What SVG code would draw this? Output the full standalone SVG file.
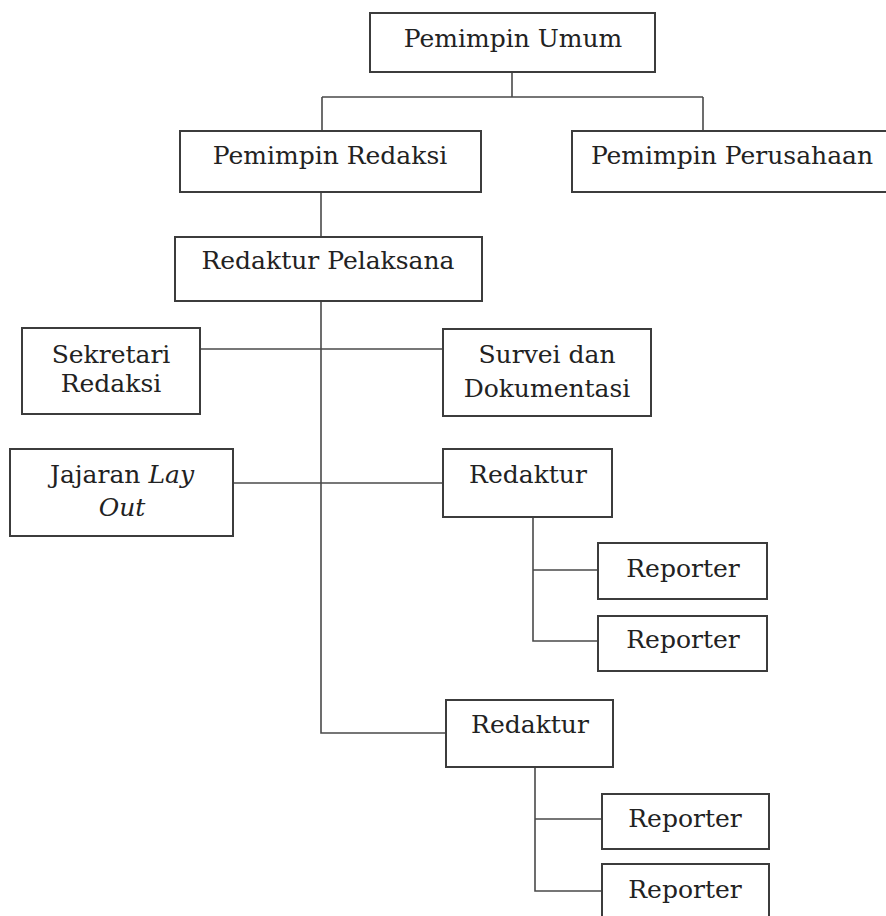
<svg xmlns="http://www.w3.org/2000/svg" width="886" height="916" viewBox="0 0 886 916">
<style>
  .box { fill: #fff; stroke: #3c3c3c; stroke-width: 2; }
  .t { font-family: "DejaVu Serif", "Liberation Serif", serif; font-size: 25px; fill: #222; text-anchor: middle; }
  .i { font-style: italic; }
  .c { fill: none; stroke: #4a4a4a; stroke-width: 1.6; }
</style>
<rect width="886" height="916" fill="#fff"/>
<g id="connectors">
  <path class="c" d="M512 72 V97 M322 97 H703 M322 97 V131 M703 97 V131"/>
  <path class="c" d="M321 192 V237"/>
  <path class="c" d="M321 301 V733 H446"/>
  <path class="c" d="M200 349 H443"/>
  <path class="c" d="M233 483 H443"/>
  <path class="c" d="M533 517 V641 H598 M533 570 H598"/>
  <path class="c" d="M535 767 V891 H602 M535 819 H602"/>
</g>
<g id="pemimpin-umum"><rect class="box" x="370" y="13" width="285" height="59"/><text class="t" x="513" y="47">Pemimpin Umum</text></g>
<g id="pemimpin-redaksi"><rect class="box" x="180" y="131" width="301" height="61"/><text class="t" x="330" y="164">Pemimpin Redaksi</text></g>
<g id="pemimpin-perusahaan"><rect class="box" x="572" y="131" width="320" height="61"/><text class="t" x="732" y="164">Pemimpin Perusahaan</text></g>
<g id="redaktur-pelaksana"><rect class="box" x="175" y="237" width="307" height="64"/><text class="t" x="328" y="269">Redaktur Pelaksana</text></g>
<g id="sekretari-redaksi"><rect class="box" x="22" y="328" width="178" height="86"/><text class="t" x="111" y="363">Sekretari</text><text class="t" x="111" y="392">Redaksi</text></g>
<g id="survei-dokumentasi"><rect class="box" x="443" y="329" width="208" height="87"/><text class="t" x="547" y="363">Survei dan</text><text class="t" x="547" y="397">Dokumentasi</text></g>
<g id="jajaran-layout"><rect class="box" x="10" y="449" width="223" height="87"/><text class="t" x="122" y="483">Jajaran <tspan class="i">Lay</tspan></text><text class="t i" x="122" y="516">Out</text></g>
<g id="redaktur-1"><rect class="box" x="443" y="449" width="169" height="68"/><text class="t" x="528" y="483">Redaktur</text></g>
<g id="reporter-1"><rect class="box" x="598" y="543" width="169" height="56"/><text class="t" x="683" y="577">Reporter</text></g>
<g id="reporter-2"><rect class="box" x="598" y="616" width="169" height="55"/><text class="t" x="683" y="648">Reporter</text></g>
<g id="redaktur-2"><rect class="box" x="446" y="700" width="167" height="67"/><text class="t" x="530" y="733">Redaktur</text></g>
<g id="reporter-3"><rect class="box" x="602" y="794" width="167" height="55"/><text class="t" x="685" y="827">Reporter</text></g>
<g id="reporter-4"><rect class="box" x="602" y="864" width="167" height="60"/><text class="t" x="685" y="898">Reporter</text></g>
</svg>
